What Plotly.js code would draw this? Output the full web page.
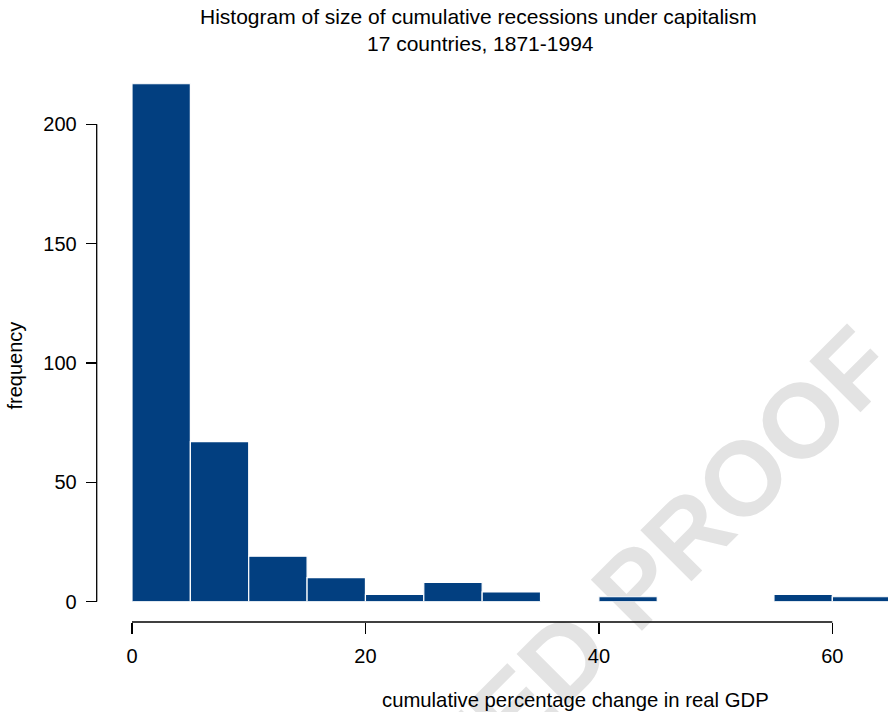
<!DOCTYPE html>
<html>
<head>
<meta charset="utf-8">
<script src="https://cdn.plot.ly/plotly-3.0.1.min.js"></script>
<style>html,body{margin:0;padding:0;background:#fff;}#chart{width:888px;height:712px;}</style>
</head>
<body>
<div id="chart"></div>
<script>
// ---- data ----
const binStarts = [0, 5, 10, 15, 20, 25, 30, 35, 40, 45, 50, 55, 60];
const binWidth = 5;
const counts = [217, 67, 19, 10, 3, 8, 4, 0, 2, 0, 0, 3, 2];
const xTicks = [0, 20, 40, 60];
const yTicks = [0, 50, 100, 150, 200];
const titleLines = ["Histogram of size of cumulative recessions under capitalism", "17 countries, 1871-1994"];
const xTitle = "cumulative percentage change in real GDP";
const yTitle = "frequency";
const watermark = "UNCORRECTED PROOF";

// ---- layout geometry ----
const W = 888, H = 712;
const xDomain = [132 / W, 1];
const xRange = [0, 64.77];
const yDomain = [(H - 601.5) / H, 1];
const yRange = [0, 252.1];
const xAxisPos = (H - 622) / H;
const yAxisPos = 96.7 / W;
const FONT = '"Liberation Sans", Arial, Helvetica, sans-serif';

function xToPaper(v) { return xDomain[0] + (v - xRange[0]) / (xRange[1] - xRange[0]) * (xDomain[1] - xDomain[0]); }
function yToPaper(v) { return yDomain[0] + (v - yRange[0]) / (yRange[1] - yRange[0]) * (yDomain[1] - yDomain[0]); }

const trace = {
  type: 'bar',
  x: binStarts,
  y: counts,
  width: binWidth,
  offset: 0,
  marker: { color: '#023f80', line: { color: '#ffffff', width: 1.2 } },
  hoverinfo: 'x+y'
};

const wmX = 437 / W, wmY = (H - 770) / H;

const layout = {
  width: W, height: H,
  margin: { l: 0, r: 0, t: 0, b: 0, pad: 0 },
  paper_bgcolor: '#ffffff',
  plot_bgcolor: 'rgba(0,0,0,0)',
  showlegend: false,
  font: { family: FONT, color: '#000000', size: 20 },
  bargap: 0,
  xaxis: {
    domain: xDomain, range: xRange, anchor: 'free', position: xAxisPos,
    showgrid: false, zeroline: false, showline: false,
    tickmode: 'array', tickvals: xTicks, ticks: 'outside', ticklen: 11, tickwidth: 1.3, tickcolor: '#000',
    ticklabelstandoff: 5,
    tickfont: { family: FONT, size: 20, color: '#000' }
  },
  yaxis: {
    domain: yDomain, range: yRange, anchor: 'free', position: yAxisPos,
    showgrid: false, zeroline: false, showline: false,
    tickmode: 'array', tickvals: yTicks, ticks: 'outside', ticklen: 11, tickwidth: 1.3, tickcolor: '#000',
    ticklabelstandoff: 5,
    tickfont: { family: FONT, size: 20, color: '#000' }
  },
  shapes: [
    {
      type: 'rect', xref: 'paper', yref: 'paper', layer: 'below',
      x0: wmX - 0.001, x1: wmX + 0.001, y0: wmY - 0.001, y1: wmY + 0.001,
      line: { width: 0 }, fillcolor: 'rgba(0,0,0,0)',
      label: { text: '<b>' + watermark + '</b>', textangle: -45, textposition: 'middle center',
               font: { family: FONT, size: 105, color: '#e3e3e3' } }
    },
    {
      type: 'line', xref: 'paper', yref: 'paper', layer: 'above',
      x0: xToPaper(xTicks[0]), x1: xToPaper(xTicks[xTicks.length - 1]), y0: xAxisPos, y1: xAxisPos,
      line: { color: '#000', width: 1.3 }
    },
    {
      type: 'line', xref: 'paper', yref: 'paper', layer: 'above',
      x0: yAxisPos, x1: yAxisPos, y0: yToPaper(yTicks[0]), y1: yToPaper(yTicks[yTicks.length - 1]),
      line: { color: '#000', width: 1.3 }
    }
  ],
  annotations: [
    {
      text: titleLines[0], xref: 'paper', yref: 'paper', x: 478 / W, y: (H - 16) / H,
      xanchor: 'center', yanchor: 'middle', showarrow: false,
      font: { family: FONT, size: 21, color: '#000' }
    },
    {
      text: titleLines[1], xref: 'paper', yref: 'paper', x: 481 / W, y: (H - 43) / H,
      xanchor: 'center', yanchor: 'middle', showarrow: false,
      font: { family: FONT, size: 21, color: '#000' }
    },
    {
      text: xTitle, xref: 'paper', yref: 'paper', x: 575.5 / W, y: (H - 700) / H,
      xanchor: 'center', yanchor: 'middle', showarrow: false,
      font: { family: FONT, size: 20.3, color: '#000' }
    },
    {
      text: yTitle, xref: 'paper', yref: 'paper', x: 14 / W, y: (H - 365.5) / H,
      xanchor: 'center', yanchor: 'middle', showarrow: false, textangle: -90,
      font: { family: FONT, size: 20, color: '#000' }
    }
  ]
};

Plotly.newPlot('chart', [trace], layout, { displayModeBar: false, staticPlot: true });
</script>
</body>
</html>
